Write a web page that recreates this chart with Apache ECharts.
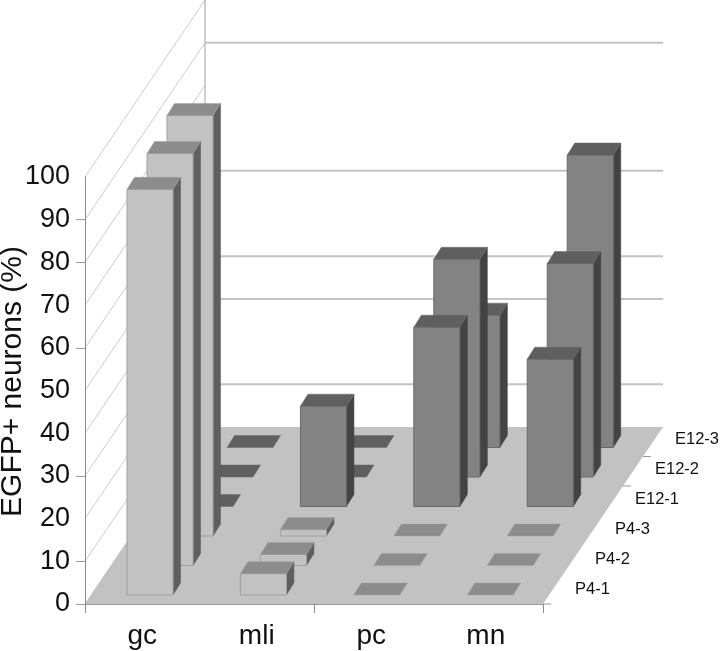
<!DOCTYPE html>
<html>
<head>
<meta charset="utf-8">
<style>html,body{margin:0;padding:0;background:#fff}#c{width:720px;height:651px}</style>
<script src="https://cdn.jsdelivr.net/npm/echarts@6/dist/echarts.min.js"></script>
</head>
<body>
<div id="c"></div>
<script>
var categories = ['gc', 'mli', 'pc', 'mn'];
var rowNames = ['P4-1', 'P4-2', 'P4-3', 'E12-1', 'E12-2', 'E12-3'];
var p4_1 = [95, 5, 0, 0];
var p4_2 = [96.5, 2.6, 0, 0];
var p4_3 = [98.5, 1.5, 0, 0];
var e12_1 = [0, 23.5, 42, 34.5];
var e12_2 = [0, 0, 51, 50];
var e12_3 = [0, 0, 31, 68.5];
var rowValues = [p4_1, p4_2, p4_3, e12_1, e12_2, e12_3];
var yTicks = [0, 10, 20, 30, 40, 50, 60, 70, 80, 90, 100];
var yTickMarks = [0, 10, 30, 60, 80, 90];
var wallLines = [90, 60, 40, 30, 10];

var ROW_DX = 20, ROW_DY = 29.5;
var LIGHT = {front: '#c2c2c2', top: '#8c8c8c', side: '#5f5f5f', edge: '#a0a0a0'};
var DARK = {front: '#838383', top: '#5f5f5f', side: '#434343', edge: '#6a6a6a'};

function renderScene(params, api) {
  var o = api.coord([0, 0]);
  var cw = api.size([1, 0])[0];
  var x0 = o[0] - cw / 2, y0 = o[1];
  var x1 = x0 + cw * categories.length;
  var dX = ROW_DX * rowNames.length, dY = ROW_DY * rowNames.length;
  var ch = [];
  yTicks.forEach(function (v) {
    var y = api.coord([0, v])[1];
    ch.push({type: 'line', shape: {x1: x0, y1: y, x2: x0 + dX, y2: y - dY},
      style: {stroke: '#cccccc', lineWidth: 1}});
  });
  ch.push({type: 'line', shape: {x1: x0 + dX, y1: 0, x2: x0 + dX, y2: y0 - dY},
    style: {stroke: '#a0a0a0', lineWidth: 1}});
  wallLines.forEach(function (v) {
    var y = api.coord([0, v])[1] - dY;
    ch.push({type: 'line', shape: {x1: x0 + dX, y1: y, x2: x1 + dX, y2: y},
      style: {stroke: '#c4c4c4', lineWidth: 2}});
  });
  ch.push({type: 'polygon', shape: {points: [[x0, y0], [x1, y0], [x1 + dX, y0 - dY], [x0 + dX, y0 - dY]]},
    style: {fill: '#c2c2c2'}});
  [4, 5].forEach(function (i) {
    var px = x1 + ROW_DX * i, py = y0 - ROW_DY * i;
    ch.push({type: 'line', shape: {x1: px, y1: py, x2: px + 8, y2: py},
      style: {stroke: '#9a9a9a', lineWidth: 1}});
  });
  ch.push({type: 'line', shape: {x1: x1, y1: y0, x2: x1 + 8, y2: y0},
    style: {stroke: '#9a9a9a', lineWidth: 1}});
  rowNames.forEach(function (name, i) {
    ch.push({type: 'text', style: {
      text: name, x: x1 + 32 + ROW_DX * i, y: y0 - 15 - 30 * i,
      fill: '#111111', font: '16.5px "Liberation Sans", Arial, sans-serif',
      align: 'left', verticalAlign: 'middle'
    }});
  });
  return {type: 'group', children: ch};
}

function makeBarRenderer(row) {
  var pal = row < 3 ? LIGHT : DARK;
  return function (params, api) {
    var cat = api.value(0), val = api.value(1);
    var base = api.coord([cat, 0]);
    var head = api.coord([cat, val]);
    var cw = api.size([1, 0])[0];
    var w = cw * 0.402;
    var x = base[0] - cw * 0.133 - cw * 0.0096 * cat + ROW_DX * row;
    var shift = 9 + ROW_DY * row;
    var yb = base[1] - shift, yt = head[1] - shift;
    var dx = 7.5, dy = 12;
    var ch = [];
    if (val > 0) {
      ch.push({type: 'polygon', shape: {points: [[x + w, yb], [x + w + dx, yb - dy], [x + w + dx, yt - dy], [x + w, yt]]},
        style: {fill: pal.side, stroke: pal.side, lineWidth: 0.5}});
      ch.push({type: 'rect', shape: {x: x, y: yt, width: w, height: yb - yt},
        style: {fill: pal.front, stroke: pal.edge, lineWidth: 1}});
    }
    ch.push({type: 'polygon', shape: {points: [[x, yt], [x + w, yt], [x + w + dx, yt - dy], [x + dx, yt - dy]]},
      style: {fill: pal.top, stroke: pal.edge, lineWidth: 0.5}});
    return {type: 'group', children: ch};
  };
}

var series = [{
  type: 'custom', name: 'scene', z: 1, silent: true, clip: false,
  data: [[0, 0]], renderItem: renderScene,
  encode: {x: 0, y: 1}
}];
for (var r = rowNames.length - 1; r >= 0; r--) {
  series.push({
    type: 'custom', name: rowNames[r], z: 2 + (rowNames.length - r), clip: false,
    renderItem: makeBarRenderer(r),
    encode: {x: 0, y: 1},
    data: rowValues[r].map(function (v, i) { return [i, v]; })
  });
}

var chart = echarts.init(document.getElementById('c'), null, {renderer: 'canvas'});
chart.setOption({
  animation: false,
  backgroundColor: '#ffffff',
  textStyle: {fontFamily: '"Liberation Sans", Arial, sans-serif'},
  grid: {left: 85, right: 177, top: 177, bottom: 47, containLabel: false, outerBoundsMode: 'none'},
  xAxis: {
    type: 'category', data: categories, z: 20,
    axisLine: {show: true, lineStyle: {color: '#9a9a9a', width: 1}},
    axisTick: {show: true, length: 9, alignWithLabel: false,
      interval: function (i) { return i === 0 || i === 2; },
      lineStyle: {color: '#8a8a8a'}},
    axisLabel: {fontSize: 28, color: '#111111', margin: 18, interval: 0}
  },
  yAxis: {
    type: 'value', min: 0, max: 100, interval: 10, z: 20,
    name: 'EGFP+ neurons (%)', nameLocation: 'middle', nameGap: 57, nameRotate: 90,
    nameMoveOverlap: false,
    nameTextStyle: {fontSize: 30, color: '#111111', padding: [0, 0, 0, 18]},
    axisLine: {show: true, onZero: false, lineStyle: {color: '#8a8a8a', width: 1}},
    axisTick: {show: true, length: 9, customValues: yTickMarks, lineStyle: {color: '#9a9a9a'}},
    axisLabel: {fontSize: 27, color: '#111111', margin: 15, padding: [0, 0, 6, 0],
      customValues: yTicks},
    splitLine: {show: false}
  },
  series: series
});
</script>
</body>
</html>
